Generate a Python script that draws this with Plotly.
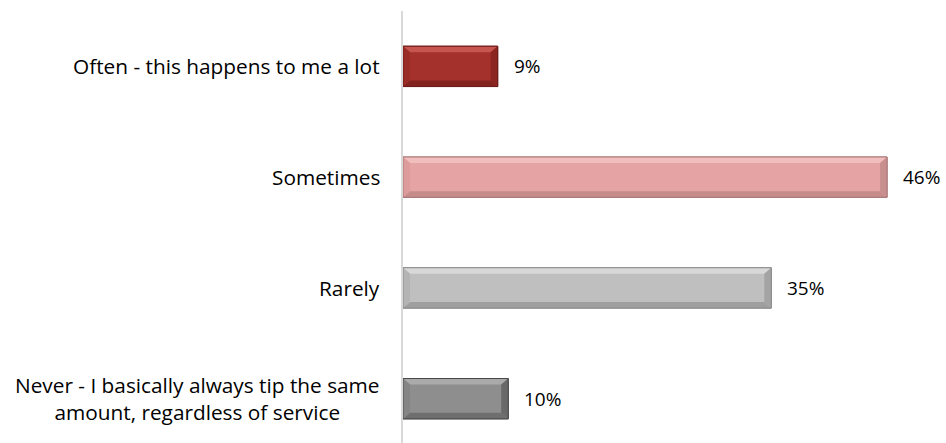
import plotly.graph_objects as go

# Survey responses, top to bottom
categories = [
    "Often - this happens to me a lot",
    "Sometimes",
    "Rarely",
    "Never - I basically always tip the same<br>amount, regardless of service",
]
values = [9, 46, 35, 10]
value_labels = ["9%", "46%", "35%", "10%"]

# Per-bar palette: face, top bevel, bottom bevel, left bevel, right bevel, outline
palettes = [
    dict(face="#A5312C", top="#C6554F", bottom="#83231F", left="#9A2C27", right="#8B2521", edge="#6E1B17"),
    dict(face="#E5A3A3", top="#F1BEBE", bottom="#C68B8B", left="#DD9B9B", right="#C98F8F", edge="#A87777"),
    dict(face="#BFBFBF", top="#D8D8D8", bottom="#9F9F9F", left="#B4B4B4", right="#A4A4A4", edge="#8A8A8A"),
    dict(face="#8E8E8E", top="#AAAAAA", bottom="#6F6F6F", left="#858585", right="#696969", edge="#4A4A4A"),
]

FONT = "'Open Sans', Lato, sans-serif"
CAT_FS = 20.8
VAL_FS = 19
W, H = 946, 443
ML, MT = 403, 11
X_MAX = 51.6
Y_RANGE = [3.40, -0.5]
BAR_W = 0.364

pos = list(range(len(categories)))

fig = go.Figure(
    go.Bar(
        x=values,
        y=pos,
        orientation="h",
        width=BAR_W,
        marker=dict(
            color=[p["face"] for p in palettes],
            line=dict(color=[p["edge"] for p in palettes], width=1),
        ),
        hoverinfo="skip",
    )
)

# Bevel facets in axis units (about 7 px each way)
px_per_x = (W - ML) / X_MAX
px_per_y = (H - MT) / (Y_RANGE[0] - Y_RANGE[1])
bx = 7 / px_per_x
by = 6 / px_per_y
h = BAR_W / 2


def poly(pts):
    return "M " + " L ".join(f"{x},{y}" for x, y in pts) + " Z"


shapes = []
for i, (v, p) in enumerate(zip(values, palettes)):
    t, b = i - h, i + h
    facets = [
        ([(0, t), (v, t), (v - bx, t + by), (bx, t + by)], p["top"]),
        ([(0, b), (v, b), (v - bx, b - by), (bx, b - by)], p["bottom"]),
        ([(0, t), (bx, t + by), (bx, b - by), (0, b)], p["left"]),
        ([(v, t), (v - bx, t + by), (v - bx, b - by), (v, b)], p["right"]),
    ]
    for pts, col in facets:
        shapes.append(dict(type="path", path=poly(pts), xref="x", yref="y",
                           fillcolor=col, line=dict(width=0), layer="above"))
    shapes.append(dict(type="rect", x0=0, x1=v, y0=t, y1=b, xref="x", yref="y",
                       fillcolor="rgba(0,0,0,0)", line=dict(color=p["edge"], width=1),
                       layer="above"))

annotations = []
for i, (v, lab) in enumerate(zip(values, value_labels)):
    annotations.append(dict(x=v, y=i, xref="x", yref="y", text=lab, showarrow=False,
                            xanchor="left", xshift=14,
                            font=dict(family=FONT, size=VAL_FS, color="#000000")))

# Category labels: right edge just left of the axis, wrapped lines centred
for i, cat in enumerate(categories):
    annotations.append(dict(x=0, y=i, xref="paper", yref="y", text=cat, showarrow=False,
                            xanchor="right", yanchor="middle", align="center",
                            xshift=-21,
                            font=dict(family=FONT, size=CAT_FS, color="#000000")))

fig.update_layout(
    width=W,
    height=H,
    margin=dict(l=ML, r=0, t=MT, b=0),
    paper_bgcolor="white",
    plot_bgcolor="white",
    showlegend=False,
    shapes=shapes,
    annotations=annotations,
    xaxis=dict(range=[0, X_MAX], visible=False, fixedrange=True),
    yaxis=dict(range=Y_RANGE, showticklabels=False, showgrid=False, zeroline=False,
               showline=True, linecolor="#D9D9D9", linewidth=2, ticks="", fixedrange=True),
)

fig.write_html("out.html")
